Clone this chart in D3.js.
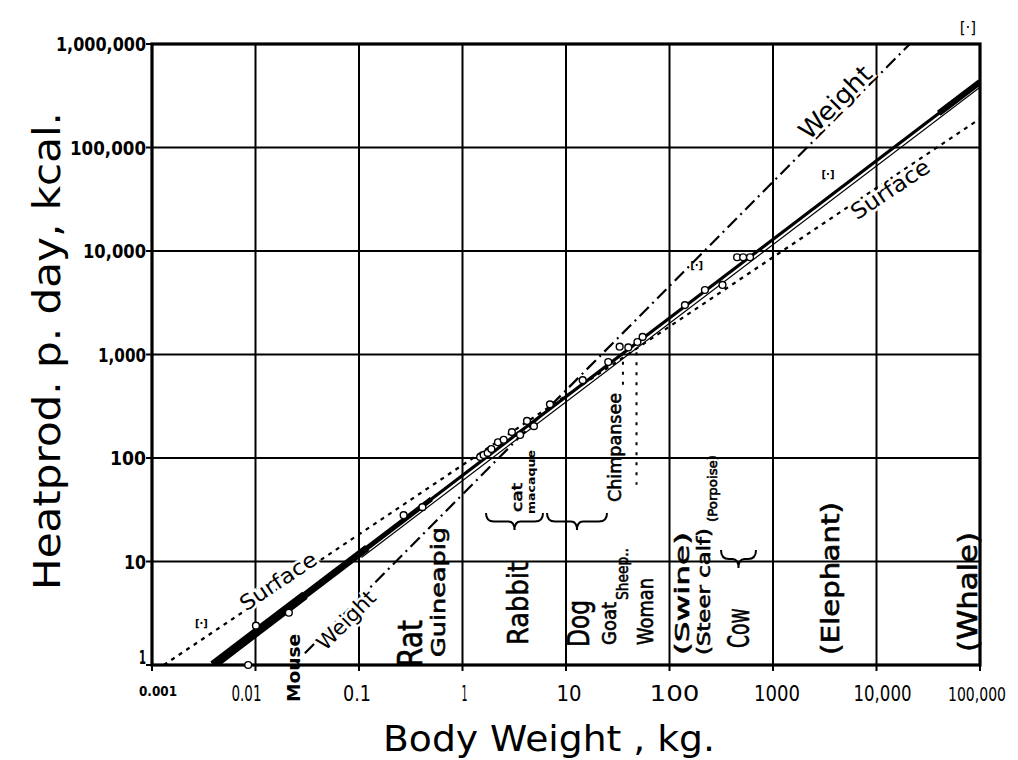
<!DOCTYPE html>
<html>
<head>
<meta charset="utf-8">
<script src="https://cdn.jsdelivr.net/npm/d3@7"></script>
<style>
html, body { margin: 0; padding: 0; background: #fff; overflow: hidden; }
svg { display: block; }
text { font-family: "DejaVu Sans", sans-serif; fill: #000; }
</style>
</head>
<body>
<script>
// Tick values and their labels
var xTicks = [0.001, 0.01, 0.1, 1, 10, 100, 1000, 10000, 100000];
var xTickLabels = ["0.001", "0.01", "0.1", "1", "10", "100", "1000", "10,000", "100,000"];
var yTicks = [1, 10, 100, 1000, 10000, 100000, 1000000];
var yTickLabels = ["1", "10", "100", "1,000", "10,000", "100,000", "1,000,000"];

// Fitted line and the two reference lines, [kg, kcal]
var fitLine = [[0.0039, 1], [100000, 430000]];
var weightLine = [[0.03, 1.3], [21000, 1000000]];
var surfaceLine = [[0.0013, 1], [100000, 190000]];

// Measured animals (circles)
var animalWeight = [0.0085, 0.0101, 0.021, 0.27, 0.41, 1.48, 1.6, 1.75, 1.9, 2.2, 2.5, 3.0, 3.6, 4.2, 4.9, 7.0,
	14.5, 25.6, 33, 40, 49, 55, 141, 220, 325, 450, 515, 600];
var animalHeat = [1.0, 2.4, 3.2, 28, 33.5, 102, 107, 112, 122, 142, 150, 178, 167, 228, 203, 330,
	565, 845, 1190, 1170, 1320, 1480, 3000, 4200, 4700, 8700, 8700, 8700];

// Bracketed points [·]
var oddWeight = [0.003, 183, 3400];
var oddHeat = [2.5, 7300, 55000];

// Dotted drop lines under chimpanzee and sheep/woman
var dropWeight = [35.5, 48];
var dropTop = [850, 1050];
var dropBottom = [480, 55];

var width = 1018, height = 760;

var x = d3.scaleLog().domain([0.001, 100000]).range([152, 980]);
var y = d3.scaleLog().domain([1, 1000000]).range([665, 44]);

var svg = d3.select("body").append("svg")
	.attr("width", width)
	.attr("height", height);

svg.append("defs").append("clipPath")
	.attr("id", "plot")
	.append("rect")
		.attr("x", 152).attr("y", 44)
		.attr("width", 828).attr("height", 621);

// Grid
var grid = svg.append("g").attr("stroke", "#000").attr("stroke-width", 2);

grid.selectAll("line.gh")
	.data(yTicks.slice(1, -1))
	.enter().append("line")
		.attr("class", "gh")
		.attr("x1", x(0.001)).attr("x2", x(100000))
		.attr("y1", function(d) { return y(d); })
		.attr("y2", function(d) { return y(d); });

grid.selectAll("line.gv")
	.data(xTicks.slice(1, -1))
	.enter().append("line")
		.attr("class", "gv")
		.attr("x1", function(d) { return x(d); })
		.attr("x2", function(d) { return x(d); })
		.attr("y1", y(1)).attr("y2", y(1000000));

// Tick stubs
grid.selectAll("line.ys")
	.data(yTicks)
	.enter().append("line")
		.attr("class", "ys")
		.attr("x1", x(0.001) - 6).attr("x2", x(0.001))
		.attr("y1", function(d) { return y(d); })
		.attr("y2", function(d) { return y(d); });

grid.selectAll("line.xs")
	.data(xTicks)
	.enter().append("line")
		.attr("class", "xs")
		.attr("x1", function(d) { return x(d); })
		.attr("x2", function(d) { return x(d); })
		.attr("y1", y(1)).attr("y2", y(1) + 6);

svg.append("rect")
	.attr("x", 152).attr("y", 44)
	.attr("width", 828).attr("height", 621)
	.attr("fill", "none")
	.attr("stroke", "#000")
	.attr("stroke-width", 3.2);

// Tick labels
svg.append("g").selectAll("text")
	.data(yTicks)
	.enter().append("text")
		.attr("x", 146)
		.attr("y", function(d) { return d === 1 ? y(d) - 8 : y(d); })
		.attr("dy", "0.36em")
		.attr("text-anchor", "end")
		.attr("font-size", 20)
		.attr("font-weight", "bold")
		.attr("textLength", function(d, i) { return [7, 22, 36, 48, 63, 76, 90][i]; })
		.attr("lengthAdjust", "spacingAndGlyphs")
		.text(function(d, i) { return yTickLabels[i]; });

var xLabelShift = [6, -9, -2, 2, 3, 5, 4, 6, -3];
var xLabelLen = [38, 30, 28, 6, 25, 50, 46, 58, 58];
var last = xTicks.length - 1;
svg.append("g").selectAll("text")
	.data(xTicks)
	.enter().append("text")
		.attr("x", function(d, i) { return x(d) + xLabelShift[i]; })
		.attr("y", function(d, i) { return i === 0 ? 696 : 701; })
		.attr("text-anchor", "middle")
		.style("font-family", "'DejaVu Sans Condensed', 'DejaVu Sans', sans-serif")
		.attr("font-size", function(d, i) { return i === 0 ? 14 : (i === last ? 19 : 22); })
		.attr("font-weight", function(d, i) { return i === 0 ? "bold" : "normal"; })
		.attr("textLength", function(d, i) { return xLabelLen[i]; })
		.attr("lengthAdjust", "spacingAndGlyphs")
		.text(function(d, i) { return xTickLabels[i]; });

// Axis titles
svg.append("text")
	.attr("transform", "translate(47,351) rotate(-90)")
	.attr("dy", "0.36em")
	.attr("text-anchor", "middle")
	.attr("font-size", 37)
	.attr("textLength", 478)
	.attr("lengthAdjust", "spacingAndGlyphs")
	.text("Heatprod. p. day, kcal.");

svg.append("text")
	.attr("x", 549).attr("y", 751)
	.attr("text-anchor", "middle")
	.attr("font-size", 36)
	.attr("textLength", 332)
	.attr("lengthAdjust", "spacingAndGlyphs")
	.text("Body Weight , kg.");

// Lines
var plot = svg.append("g").attr("clip-path", "url(#plot)");

var line = d3.line()
	.x(function(d) { return x(d[0]); })
	.y(function(d) { return y(d[1]); });

plot.append("path")
	.attr("d", line(surfaceLine))
	.attr("fill", "none")
	.attr("stroke", "#000")
	.attr("stroke-width", 2.2)
	.attr("stroke-dasharray", "4,5");

plot.append("path")
	.attr("d", line(weightLine))
	.attr("fill", "none")
	.attr("stroke", "#000")
	.attr("stroke-width", 2.2)
	.attr("stroke-dasharray", "13,5,2,5");

// point on the fitted line at a given weight
function fitAt(w) {
	var a = fitLine[0], b = fitLine[1];
	var t = (Math.log(w) - Math.log(a[0])) / (Math.log(b[0]) - Math.log(a[0]));
	return [w, Math.exp(Math.log(a[1]) + t * (Math.log(b[1]) - Math.log(a[1])))];
}

// main line, heavy at the small end
[[0.0039, 0.03, 9], [0.0039, 0.12, 7], [0.0039, 0.5, 5], [0.0039, 100000, 3.2], [40000, 100000, 6]].forEach(function(s) {
	plot.append("path")
		.attr("d", line([fitAt(s[0]), fitAt(s[1])]))
		.attr("fill", "none")
		.attr("stroke", "#000")
		.attr("stroke-width", s[2]);
});

// thin companion line just below the main one
var p0 = [x(fitLine[0][0]), y(fitLine[0][1])], p1 = [x(fitLine[1][0]), y(fitLine[1][1])];
var len = Math.hypot(p1[0] - p0[0], p1[1] - p0[1]);
var nx = -(p1[1] - p0[1]) / len * 4.2, ny = (p1[0] - p0[0]) / len * 4.2;
plot.append("path")
	.attr("d", line([fitAt(0.1), fitAt(100000)]))
	.attr("transform", "translate(" + nx + "," + ny + ")")
	.attr("fill", "none")
	.attr("stroke", "#000")
	.attr("stroke-width", 1.2);

// dotted drops
svg.append("g").selectAll("line")
	.data(dropWeight)
	.enter().append("line")
		.attr("x1", function(d) { return x(d); })
		.attr("x2", function(d) { return x(d); })
		.attr("y1", function(d, i) { return y(dropTop[i]); })
		.attr("y2", function(d, i) { return y(dropBottom[i]); })
		.attr("stroke", "#000")
		.attr("stroke-width", 2)
		.attr("stroke-dasharray", "3,7");

// points
svg.append("g").selectAll("circle")
	.data(animalWeight)
	.enter().append("circle")
		.attr("cx", function(d) { return x(d); })
		.attr("cy", function(d, i) { return y(animalHeat[i]); })
		.attr("r", 3.4)
		.attr("fill", "#fff")
		.attr("stroke", "#000")
		.attr("stroke-width", 1.4);

svg.append("g").selectAll("text")
	.data(oddWeight)
	.enter().append("text")
		.attr("x", function(d) { return x(d); })
		.attr("y", function(d, i) { return y(oddHeat[i]); })
		.attr("dy", "0.35em")
		.attr("text-anchor", "middle")
		.attr("font-size", 10)
		.attr("font-weight", "bold")
		.text("[·]");

svg.append("text")
	.attr("x", 968).attr("y", 28)
	.attr("dy", "0.35em")
	.attr("text-anchor", "middle")
	.attr("font-size", 15)
	.text("[·]");

// Labels along the reference lines
function slope(l) {
	return Math.atan2(y(l[1][1]) - y(l[0][1]), x(l[1][0]) - x(l[0][0])) * 180 / Math.PI;
}

function slantLabel(s, cx, cy, ang, tl, size) {
	svg.append("text")
		.attr("transform", "translate(" + cx + "," + cy + ") rotate(" + ang + ")")
		.attr("dy", "0.36em")
		.attr("text-anchor", "middle")
		.attr("font-size", size)
		.attr("textLength", tl)
		.attr("lengthAdjust", "spacingAndGlyphs")
		.attr("stroke", "#fff")
		.attr("stroke-width", 5)
		.attr("paint-order", "stroke")
		.text(s);
}

slantLabel("Surface", 278, 581, slope(surfaceLine), 88, 21);
slantLabel("Surface", 890, 189, slope(surfaceLine), 90, 22);
slantLabel("Weight", 346, 620, slope(weightLine), 74, 21);
slantLabel("Weight", 835, 102, slope(weightLine), 92, 25);

// Animal names, written upward
function vLabel(s, cx, yBottom, yTop, size, bold) {
	svg.append("text")
		.attr("transform", "translate(" + cx + "," + yBottom + ") rotate(-90)")
		.attr("dy", "0.36em")
		.attr("font-size", size)
		.attr("font-weight", bold ? "bold" : "normal")
		.attr("stroke", "#000")
		.attr("stroke-width", bold ? 0 : 0.6)
		.attr("textLength", yBottom - yTop)
		.attr("lengthAdjust", "spacingAndGlyphs")
		.text(s);
}

vLabel("Mouse", 294, 702, 634, 18, true);
vLabel("Rat", 410, 667, 620, 34, false);
vLabel("Guineapig", 438, 657, 527, 19, false);
vLabel("Rabbit", 518, 645, 562, 28, false);
vLabel("cat", 517, 512, 483, 14, false);
vLabel("macaque", 531, 514, 450, 10, true);
vLabel("Dog", 578, 647, 600, 30, false);
vLabel("Goat", 609, 645, 602, 19, false);
vLabel("Sheep..", 622, 600, 548, 16, false);
vLabel("Woman", 645, 645, 578, 21, false);
vLabel("Chimpansee", 615, 502, 393, 17, false);
vLabel("(Swine)", 682, 655, 532, 20, false);
vLabel("(Steer calf)", 704, 655, 528, 17, false);
vLabel("(Porpoise)", 712, 522, 455, 13, false);
vLabel("Cow", 738, 648, 608, 30, false);
vLabel("(Elephant)", 830, 655, 502, 25, false);
vLabel("(Whale)", 968, 652, 532, 26, false);

// Braces pointing down
function brace(x1, x2, y0, h) {
	var m = (x1 + x2) / 2, q = h / 2;
	return "M" + x1 + "," + y0 +
		"Q" + x1 + "," + (y0 + q) + " " + (x1 + 8) + "," + (y0 + q) +
		"L" + (m - 6) + "," + (y0 + q) +
		"Q" + m + "," + (y0 + q) + " " + m + "," + (y0 + h) +
		"Q" + m + "," + (y0 + q) + " " + (m + 6) + "," + (y0 + q) +
		"L" + (x2 - 8) + "," + (y0 + q) +
		"Q" + x2 + "," + (y0 + q) + " " + x2 + "," + y0;
}

svg.append("g").selectAll("path")
	.data([[486, 543, 513, 17], [547, 607, 513, 17], [721, 756, 550, 18]])
	.enter().append("path")
		.attr("d", function(d) { return brace(d[0], d[1], d[2], d[3]); })
		.attr("fill", "none")
		.attr("stroke", "#000")
		.attr("stroke-width", 2);
</script>
</body>
</html>
